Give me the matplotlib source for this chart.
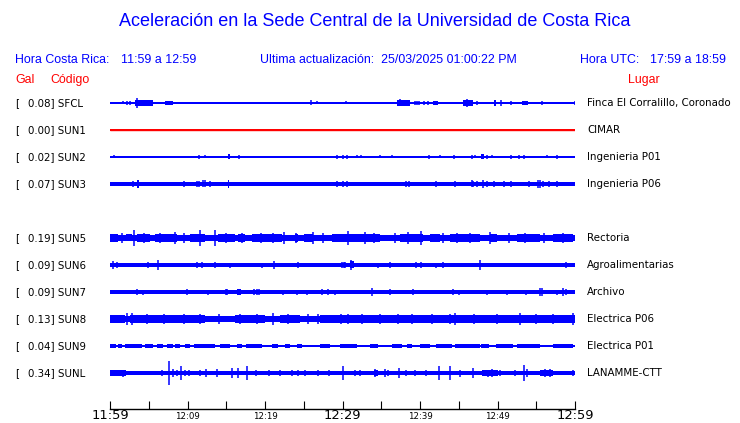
#!/usr/bin/env python3

'''Acceleration traces, Sede Central UCR (one hour window).'''

import matplotlib
matplotlib.use('Agg')
import matplotlib.pyplot as plt

W, H = 740, 423
ROW_PX = 27.0   # vertical distance between two traces, in pixels

codes = ['SFCL', 'SUN1', 'SUN2', 'SUN3', 'SUN5', 'SUN6', 'SUN7', 'SUN8', 'SUN9', 'SUNL']
rows = [0, 1, 2, 3, 5, 6, 7, 8, 9, 10]
peaks = ['0.08', '0.00', '0.02', '0.07', '0.19', '0.09', '0.09', '0.13', '0.04', '0.34']
places = ['Finca El Corralillo, Coronado', 'CIMAR', 'Ingenieria P01', 'Ingenieria P06',
          'Rectoria', 'Agroalimentarias', 'Archivo', 'Electrica P06', 'Electrica P01',
          'LANAMME-CTT']

# half thickness of the quiet trace (px)
base = [0.6, 0.6, 0.6, 2.0, 3.0, 2.2, 2.0, 3.0, 1.0, 2.0]

# bursts: (start min, end min, half amplitude px), minutes after 11:59
bands = {
    'SFCL': [(3.2, 5.6, 3), (7.1, 8.1, 2), (37.0, 38.7, 3), (41.7, 42.3, 2),
             (45.5, 46.8, 3), (49.5, 49.8, 3), (53.2, 53.9, 2)],
    'SUN1': [],
    'SUN2': [(15.2, 15.5, 2.5), (47.9, 48.3, 2.5)],
    'SUN3': [(3.5, 3.8, 4), (15.2, 15.4, 4)],
    'SUN5': [(0.0, 1.0, 3.8), (2.1, 2.8, 3.5), (3.5, 5.2, 3.8), (5.8, 8.6, 3.8), (10.3, 12.3, 4.2),
             (13.9, 16.1, 3.8), (16.5, 17.4, 3.8), (18.3, 22.2, 3.8), (23.9, 24.3, 3.8),
             (25.0, 26.2, 4.2), (28.6, 30.3, 3.8), (30.3, 34.8, 4.2), (37.4, 40.4, 4.2),
             (41.3, 42.6, 3.8), (43.9, 45.5, 3.8), (45.5, 47.7, 4), (49.0, 49.9, 4.2),
             (52.5, 55.5, 3.8), (57.2, 59.7, 3.8)],
    'SUN6': [(31.0, 31.5, 3.5)],
    'SUN7': [(16.4, 16.9, 3.2)],
    'SUN8': [(0.0, 1.9, 3.6), (2.6, 9.0, 3.6), (9.0, 12.3, 3.6), (12.9, 15.5, 3.4), (16.1, 20.0, 3.6),
             (21.9, 24.5, 3.6), (24.5, 27.1, 3.4), (27.1, 30.3, 3.8), (29.7, 34.8, 4),
             (34.8, 40.0, 3.8), (40.0, 45.2, 3.6), (45.2, 50.3, 4), (50.3, 55.5, 3.8),
             (55.5, 60.0, 3.8)],
    'SUN9': [(0, 0.8, 1.7), (1.0, 1.5, 1.7), (1.9, 4.1, 1.7), (4.5, 5.5, 1.7), (6.1, 6.9, 1.7),
             (7.4, 8.1, 1.7), (8.4, 9.0, 1.7), (9.7, 10.3, 1.7), (10.9, 13.5, 1.7), (14.2, 15.5, 1.7),
             (16.4, 17.0, 1.7), (17.5, 19.6, 1.7), (20.9, 21.7, 1.7), (22.6, 23.2, 1.7),
             (24.1, 24.8, 1.7), (27.1, 28.4, 1.7), (29.7, 31.9, 1.7), (33.5, 34.6, 1.7),
             (36.4, 37.7, 1.7), (38.3, 39.0, 1.7), (40.0, 41.3, 1.7), (42.0, 44.1, 1.7),
             (44.5, 47.7, 1.7), (47.9, 48.9, 1.7), (49.8, 52.0, 1.7), (52.5, 55.5, 1.7),
             (57.2, 59.7, 1.7)],
    'SUNL': [(0.0, 2.0, 3), (34.0, 34.6, 3), (48.0, 50.0, 3), (55.5, 57.2, 3)],
}

# single spikes: (minute, half amplitude px)
spikes = {
    'SFCL': [(1.7, 1.5), (2.2, 2), (2.6, 2), (3.5, 5), (25.9, 2.5), (26.7, 1.5), (30.5, 1.5),
             (37.4, 3.5), (39.4, 2), (39.6, 2), (39.9, 2), (40.5, 2), (41.0, 2), (46.1, 4),
             (47.4, 2), (50.5, 3), (51.7, 2), (55.7, 2), (60.0, 2)],
    'SUN1': [],
    'SUN2': [(0.5, 1.5), (11.5, 2), (12.3, 1.5), (16.6, 2), (29.3, 2), (30.1, 2), (30.6, 2),
             (31.9, 1.5), (32.4, 1.5), (34.8, 1.5), (36.4, 1.5), (41.2, 2), (42.6, 1.5),
             (44.4, 2), (46.7, 2), (47.1, 1.5), (48.6, 2), (49.3, 1.5), (51.7, 2), (52.8, 2),
             (53.4, 2), (56.4, 1.5), (57.7, 2)],
    'SUN3': [(3.0, 3), (9.5, 3), (11.2, 3), (11.5, 3), (12.0, 3.5), (12.3, 3.5), (12.9, 3),
             (29.3, 3), (30.1, 3), (30.6, 3), (38.2, 3), (38.6, 3), (42.1, 3), (44.5, 3),
             (46.7, 3.5), (46.8, 3), (47.4, 3), (48.1, 4), (48.6, 3), (49.5, 3), (50.8, 3),
             (51.7, 3), (54.1, 3), (55.2, 4), (55.5, 4), (55.9, 3), (56.6, 3), (57.7, 3)],
    'SUN5': [(1.5, 5), (3.1, 8), (4.4, 5), (6.5, 5), (8.4, 6), (9.6, 5), (11.6, 8), (13.5, 8),
             (15.0, 5), (17.0, 5), (19.5, 5), (21.0, 5), (22.5, 6), (24.0, 5), (26.2, 6),
             (27.5, 5), (30.7, 7), (32.9, 6), (34.0, 5), (36.8, 5), (38.5, 6), (40.1, 7),
             (43.0, 5), (44.8, 5), (46.5, 5), (49.0, 6), (51.5, 5), (53.6, 5), (56.0, 5),
             (58.5, 5)],
    'SUN6': [(0.4, 4), (0.9, 3), (4.9, 3), (6.2, 5), (11.2, 3), (11.9, 3), (13.5, 3),
             (15.5, 2.5), (19.6, 2.5), (21.2, 4), (24.3, 3), (29.9, 3), (30.2, 3), (30.3, 3),
             (31.1, 5), (34.6, 2.5), (36.1, 3), (39.5, 3), (40.1, 3), (42.1, 2.5), (43.0, 3),
             (47.7, 5), (58.8, 3)],
    'SUN7': [(3.5, 3), (4.3, 2.5), (9.9, 3), (12.6, 2.5), (15.0, 3), (15.1, 3), (18.6, 3),
             (19.0, 3), (19.2, 3), (22.3, 2.5), (24.1, 2.5), (25.4, 2.5), (27.4, 3), (28.1, 3),
             (29.0, 2.5), (33.8, 4), (36.1, 3), (39.1, 3), (44.3, 3), (45.0, 2.5), (48.6, 2.5),
             (51.2, 2.5), (53.7, 2.5), (55.5, 4), (55.7, 4), (57.7, 2.5), (58.5, 4), (58.8, 3)],
    'SUN8': [(2.2, 6), (2.8, 6), (4.8, 5), (7.0, 5), (9.5, 5), (11.6, 5), (14.0, 5), (16.8, 5),
             (19.0, 5), (21.0, 6), (23.0, 5), (25.5, 5), (26.8, 5), (29.8, 5), (30.7, 5),
             (32.5, 5), (34.8, 5), (37.2, 5), (39.0, 5), (41.5, 5), (43.9, 5), (44.5, 6),
             (47.0, 5), (49.9, 5), (52.9, 6), (55.0, 5), (57.2, 5), (59.7, 6)],
    'SUN9': [],
    'SUNL': [(1.7, 3.5), (6.7, 3), (7.6, 12), (8.1, 4), (8.6, 3), (9.2, 7), (9.7, 3),
             (10.2, 3), (11.6, 3), (12.4, 4), (13.8, 4), (15.7, 5), (16.5, 5), (17.7, 7),
             (18.8, 3), (20.5, 3), (21.9, 3), (23.5, 3), (24.3, 3), (25.2, 3), (26.8, 3),
             (28.3, 3), (30.1, 7), (31.6, 3), (32.3, 3), (34.2, 4), (35.5, 4), (35.9, 3),
             (37.3, 5), (38.2, 3), (39.4, 3), (40.8, 3), (42.5, 7), (43.9, 7), (45.2, 3.5),
             (46.8, 5), (48.8, 3.5), (49.3, 4), (50.3, 3), (52.3, 3), (53.4, 8), (53.8, 4),
             (56.1, 4), (56.8, 4), (59.7, 3)],
}

tick_minutes = list(range(0, 61, 5))
tick_labels = {0: '11:59', 10: '12:09', 20: '12:19', 30: '12:29',
               40: '12:39', 50: '12:49', 60: '12:59'}
big_ticks = [0, 30, 60]

BLUE = '#0000ff'
RED = '#ff0000'
HEAD_FONT = 'Liberation Sans'
LABEL_FONT = 'DejaVu Sans'


def fx(px):
    return px / W


def fy(py):
    return 1 - py / H


fig = plt.figure(figsize=(W / 100, H / 100), dpi=100)
fig.patch.set_facecolor('white')

top_px, axis_px, first_row_px = 90, 409, 103
ax = fig.add_axes([fx(110), fy(axis_px), (575 - 110) / W, (axis_px - top_px) / H])
ax.set_xlim(0, 60)
ax.set_ylim((axis_px - first_row_px) / ROW_PX, (top_px - first_row_px) / ROW_PX)

px2row = 1.0 / ROW_PX
for code, row, b in zip(codes, rows, base):
    color = RED if code == 'SUN1' else BLUE
    ax.fill_between([0, 60], row - b * px2row, row + b * px2row, color=color, lw=0)
    for t0, t1, a in bands[code]:
        ax.fill_between([t0, t1], row - a * px2row, row + a * px2row, color=color, lw=0)
    sp = spikes[code]
    if sp:
        ax.vlines([s[0] for s in sp], [row - s[1] * px2row for s in sp],
                  [row + s[1] * px2row for s in sp], color=color, lw=1.1)
    if code == 'SUN1':
        ax.hlines(row, 0, 60, color=RED, lw=1.0)

for s in ['top', 'left', 'right']:
    ax.spines[s].set_visible(False)
ax.spines['bottom'].set_linewidth(1.0)
ax.set_yticks([])
ax.set_xticks(tick_minutes)
ax.set_xticklabels([tick_labels.get(m, '') for m in tick_minutes])
ax.tick_params(axis='x', direction='in', length=6, width=0.8, pad=7.5)
for m, lab in zip(tick_minutes, ax.get_xticklabels()):
    lab.set_family(LABEL_FONT)
    lab.set_verticalalignment('baseline')
    lab.set_fontsize(9.4 if m in big_ticks else 6.2)

# station labels
lab_kw = dict(xycoords=('figure pixels', 'data'), va='center', fontsize=7.4,
              family=LABEL_FONT, annotation_clip=False)
for code, row, pk, place in zip(codes, rows, peaks, places):
    ax.annotate('[', (15, row), **lab_kw)
    ax.annotate(f'{pk}] {code}', (27.5, row), **lab_kw)
    ax.annotate(place, (587, row), **lab_kw)

fig.text(fx(375), fy(22), 'Aceleración en la Sede Central de la Universidad de Costa Rica',
         ha='center', va='center', color=BLUE, fontsize=13, family=HEAD_FONT)

hdr = dict(va='center', color=BLUE, fontsize=8.9, family=HEAD_FONT)
fig.text(fx(15), fy(60), 'Hora Costa Rica:', **hdr)
fig.text(fx(121), fy(60), '11:59 a 12:59', **hdr)
fig.text(fx(260), fy(60), 'Ultima actualización:  25/03/2025 01:00:22 PM', **hdr)
fig.text(fx(580), fy(60), 'Hora UTC:', **hdr)
fig.text(fx(650), fy(60), '17:59 a 18:59', **hdr)

red = dict(va='center', color=RED, fontsize=8.9, family=HEAD_FONT)
fig.text(fx(15), fy(80), 'Gal', **red)
fig.text(fx(50), fy(80), 'Código', **red)
fig.text(fx(628), fy(80), 'Lugar', **red)

fig.savefig('out.png', dpi=100, facecolor='white')
